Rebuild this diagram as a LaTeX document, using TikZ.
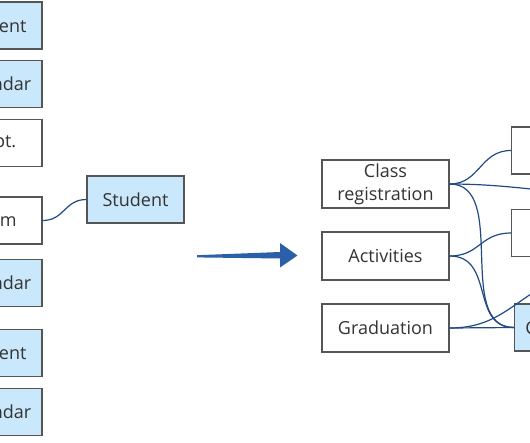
\documentclass[tikz,border=0pt]{standalone}
\usepackage{fontspec}
\setmainfont{Open Sans}
\definecolor{boxblue}{HTML}{C9E8FB}
\definecolor{boxline}{HTML}{555555}
\definecolor{conn}{HTML}{1F4A85}
\definecolor{arrowblue}{HTML}{2B60A8}
\definecolor{txt}{HTML}{333333}
\tikzset{
  box/.style={draw=boxline, line width=1.3pt, fill=white, minimum width=97pt, minimum height=47pt,
    inner sep=2pt, font=\fontsize{18}{23}\selectfont, text=txt, align=center},
  bluebox/.style={box, fill=boxblue},
  widebox/.style={box, minimum width=127pt, minimum height=48pt},
  link/.style={draw=conn, line width=1.2pt}
}
\begin{document}
\begin{tikzpicture}[x=1pt,y=-1pt]
\useasboundingbox (0,0) rectangle (530,442);
\begin{scope}
\clip (0,0) rectangle (530,442);
% left column
\node[bluebox] (l1) at (-6.5,25.5) {Student};
\node[bluebox] (l2) at (-6.5,84) {Calendar};
\node[box] (l3) at (-6.5,143) {Dept.};
\node[box] (l4) at (-6.5,220.5) {Exam};
\node[bluebox] (l5) at (-6.5,283) {Calendar};
\node[bluebox] (l6) at (-6.5,353) {Student};
\node[bluebox] (l7) at (-6.5,412) {Calendar};
\node[bluebox] (stu) at (135.5,199.5) {Student};
\draw[link] (l4.east) .. controls (64.5,220.5) and (64.5,199.5) .. (stu.west);
% arrow
\fill[arrowblue] (197,255.2) -- (280,252) -- (280,243) -- (297.5,255.5) -- (280,267.5) -- (280,258.5) -- (197,257.4) -- cycle;
% middle column
\node[widebox] (cr) at (385.5,184) {Class\\registration};
\node[widebox] (act) at (385.5,256) {Activities};
\node[widebox] (grad) at (385.5,328) {Graduation};
% right column
\node[box, anchor=west] (r1) at (511,150.5) {};
\node[box, anchor=west] (r2) at (511,233) {};
\node[bluebox, anchor=west] (cal) at (514,327.5) {Calendar};
\coordinate (off1) at (560,192);
\coordinate (off2) at (550,282);
% connectors
\draw[link] (cr.east) .. controls (480,184) and (480,150.5) .. (r1.west);
\draw[link] (cr.east) .. controls (490,184) and (520,188) .. (off1);
\draw[link] (cr.east) .. controls (509,184) and (454,327.5) .. (cal.west);
\draw[link] (act.east) .. controls (480,256) and (480,233) .. (r2.west);
\draw[link] (act.east) .. controls (495,256) and (470,327.5) .. (cal.west);
\draw[link] (grad.east) -- (cal.west);
\draw[link] (grad.east) .. controls (495,328) and (510,305) .. (off2);
\end{scope}
\end{tikzpicture}
\end{document}
